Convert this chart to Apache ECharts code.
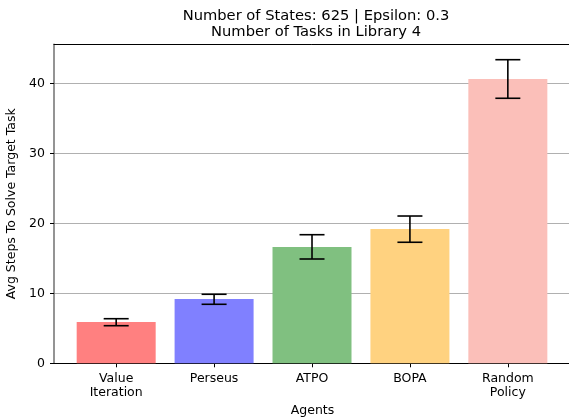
<!DOCTYPE html>
<html>
<head>
<meta charset="utf-8">
<script src="https://cdn.jsdelivr.net/npm/echarts@6/dist/echarts.min.js"></script>
<style>
  html, body { margin: 0; padding: 0; background: #fff; }
  #chart { width: 569px; height: 417px; }
</style>
</head>
<body>
<div id="chart"></div>
<script>
// Agents compared and their average steps to solve the target task
const agents = ['Value\nIteration', 'Perseus', 'ATPO', 'BOPA', 'Random\nPolicy'];
const meanSteps = [5.9, 9.2, 16.6, 19.2, 40.6];
const errLow = [5.37, 8.43, 14.9, 17.29, 37.86];
const errHigh = [6.37, 9.86, 18.37, 21.04, 43.37];
const barColors = ['#ff8080', '#8080ff', '#80c080', '#ffd280', '#fbbfb9'];
const yTicks = [0, 10, 20, 30, 40];

const FONT = 'DejaVu Sans';
const LABEL_SIZE = 12.5;
const xMin = -0.635, xMax = 4.645;
const yMax = 45.57;

const chart = echarts.init(document.getElementById('chart'), null, { renderer: 'canvas' });

const option = {
  animation: false,
  backgroundColor: '#fff',
  textStyle: { fontFamily: FONT },
  title: {
    text: 'Number of States: 625 | Epsilon: 0.3\nNumber of Tasks in Library 4',
    left: 311, top: 3, textAlign: 'center',
    textStyle: { fontFamily: FONT, fontSize: 14.7, fontWeight: 'normal', color: '#000', lineHeight: 16 }
  },
  grid: {
    left: 54, top: 44.3, width: 517, bottom: 53.7,
    containLabel: false, outerBoundsMode: 'none'
  },
  xAxis: [
    {
      type: 'value', min: xMin, max: xMax, position: 'bottom',
      name: 'Agents', nameLocation: 'middle', nameGap: 39,
      nameTextStyle: { fontFamily: FONT, fontSize: LABEL_SIZE, color: '#000' },
      axisLine: { show: true, onZero: false, lineStyle: { color: '#000', width: 1 } },
      axisTick: { show: true, length: 4, customValues: agents.map((_, i) => i), lineStyle: { color: '#000' } },
      axisLabel: {
        customValues: agents.map((_, i) => i),
        formatter: v => agents[Math.round(v)] || '',
        fontFamily: FONT, fontSize: LABEL_SIZE, color: '#000', margin: 8, lineHeight: 14
      },
      splitLine: { show: false }
    },
    {
      type: 'value', min: xMin, max: xMax, position: 'top',
      axisLine: { show: true, onZero: false, lineStyle: { color: '#000', width: 1 } },
      axisTick: { show: false }, axisLabel: { show: false }, splitLine: { show: false }
    }
  ],
  yAxis: {
    type: 'value', min: 0, max: yMax, interval: 10,
    name: 'Avg Steps To Solve Target Task', nameLocation: 'middle', nameGap: 31, nameRotate: 90,
    nameTextStyle: { fontFamily: FONT, fontSize: LABEL_SIZE, color: '#000' },
    axisLine: { show: true, onZero: false, lineStyle: { color: '#707070', width: 1.5 } },
    axisTick: { show: true, length: 4, lineStyle: { color: '#000' } },
    axisLabel: {
      fontFamily: FONT, fontSize: LABEL_SIZE, color: '#000', margin: 9, showMaxLabel: false,
      formatter: v => (yTicks.includes(v) ? String(v) : '')
    },
    splitLine: { show: true, lineStyle: { color: '#b0b0b0', width: 1 } }
  },
  series: [
    {
      type: 'bar', xAxisIndex: 0, barWidth: 79,
      data: meanSteps.map((v, i) => ({ value: [i, v], itemStyle: { color: barColors[i] } })),
      z: 2
    },
    {
      // error bars: vertical whisker with caps at both ends
      type: 'custom', xAxisIndex: 0, z: 5,
      data: agents.map((_, i) => [i, errLow[i], errHigh[i]]),
      encode: { x: 0, y: [1, 2] },
      renderItem: (params, api) => {
        const x = api.value(0);
        const lo = api.coord([x, api.value(1)]);
        const hi = api.coord([x, api.value(2)]);
        const cap = 12.5;
        const style = { stroke: '#000', lineWidth: 1.6 };
        return {
          type: 'group',
          children: [
            { type: 'line', shape: { x1: lo[0], y1: lo[1], x2: hi[0], y2: hi[1] }, style },
            { type: 'line', shape: { x1: lo[0] - cap, y1: lo[1], x2: lo[0] + cap, y2: lo[1] }, style },
            { type: 'line', shape: { x1: hi[0] - cap, y1: hi[1], x2: hi[0] + cap, y2: hi[1] }, style }
          ]
        };
      }
    }
  ]
};

chart.setOption(option);
</script>
</body>
</html>
